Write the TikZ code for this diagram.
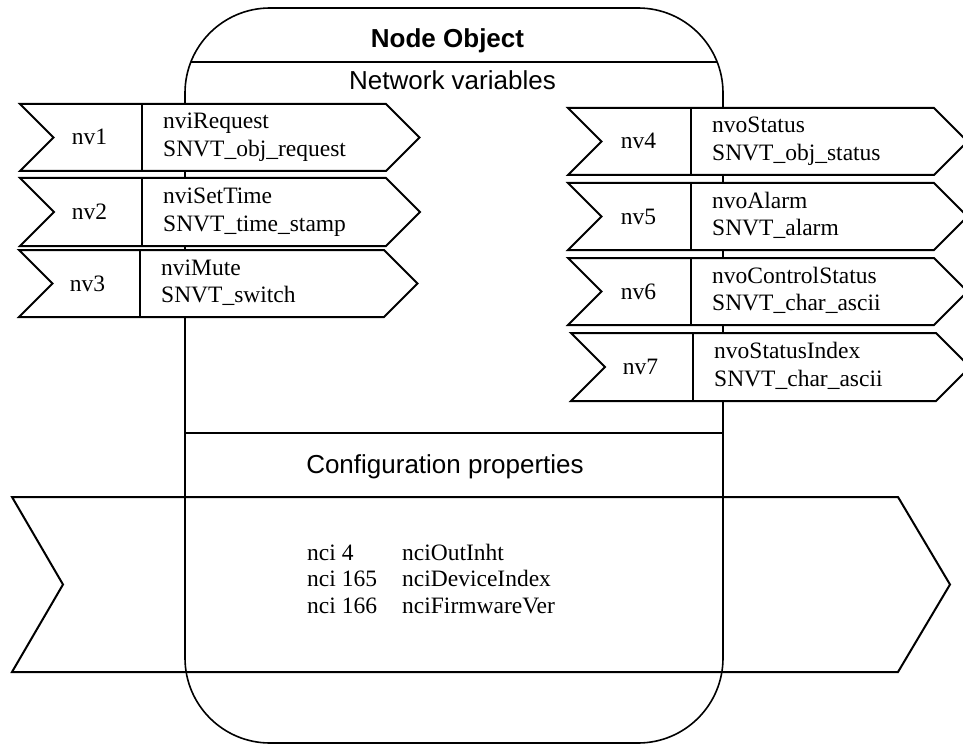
\documentclass[tikz,border=0pt]{standalone}
\usepackage{fontspec}
\setmainfont{Liberation Serif}
\setsansfont{Liberation Sans}

\begin{document}
\begin{tikzpicture}[x=1pt, y=-1pt, every node/.style={inner sep=0pt},
    frameline/.style={line width=1.6pt},
    nvshape/.style={draw, fill=white, line width=2pt, line join=miter},
    cpshape/.style={draw, line width=2pt, line join=miter},
    serif/.style={font=\fontsize{23.5}{27}\selectfont},
    headline/.style={font=\sffamily\fontsize{26}{30}\selectfont, anchor=base},
    title/.style={font=\sffamily\bfseries\fontsize{26}{30}\selectfont, anchor=base}]
\clip (0,0) rectangle (963,746);
    \draw[cpshape] (12,497) -- (898,497) -- (950,584.5) -- (898,672) -- (12,672) -- (63,584.5) -- cycle;
    \draw[frameline, rounded corners=85pt] (185,8) rectangle (723,743);
    \begin{scope}
        \clip[rounded corners=85pt] (185,8) rectangle (723,743);
        \draw[frameline] (185,62) -- (723,62);
    \end{scope}
    \draw[frameline] (185,433) -- (723,433);
    \node[title] (obj) at (447.5,48) {Node Object};
    \node[headline] (nvhead) at (452.5,90) {Network variables};
    \node[headline] (cphead) at (445,473) {Configuration properties};
    % network variables, inputs left, outputs right
    \foreach \name/\ya/\yb/\xl/\xd/\xf/\varname/\vartype in {
        nv1/104/171/20/142/386/nviRequest/SNVT\_obj\_request,
        nv2/178/246/20/142/386/nviSetTime/SNVT\_time\_stamp,
        nv3/250/317/19/140/384/nviMute/SNVT\_switch,
        nv4/108/175/568/691/934/nvoStatus/SNVT\_obj\_status,
        nv5/183/250/568/691/934/nvoAlarm/SNVT\_alarm,
        nv6/258/325/568/691/934/nvoControlStatus/SNVT\_char\_ascii,
        nv7/333/401/571/693/936/nvoStatusIndex/SNVT\_char\_ascii}
    {
        \pgfmathsetmacro{\ym}{(\ya+\yb)/2}
        \pgfmathsetmacro{\hh}{(\yb-\ya)/2}
        \draw[nvshape] (\xl,\ya) -- (\xf,\ya) -- (\xf+\hh,\ym) -- (\xf,\yb) -- (\xl,\yb) -- (\xl+\hh,\ym) -- cycle;
        \draw[line width=2pt] (\xd,\ya) -- (\xd,\yb);
        \node[serif, anchor=base] (\name) at (\xd-52.5,\ym+7.5) {\name};
        \node[serif, anchor=base west] (\name name) at (\xd+21,\ym-8.5) {\varname};
        \node[serif, anchor=base west] (\name type) at (\xd+21,\ym+19) {\vartype};
    }
    % configuration properties
    \foreach \num/\cpname [count=\i] in {4/nciOutInht, 165/nciDeviceIndex, 166/nciFirmwareVer}
    {
        \node[serif, anchor=base west] (nci\i) at (307,533.5+26.5*\i) {nci \num};
        \node[serif, anchor=base west] (cp\i) at (402,533.5+26.5*\i) {\cpname};
    }
\end{tikzpicture}
\end{document}
